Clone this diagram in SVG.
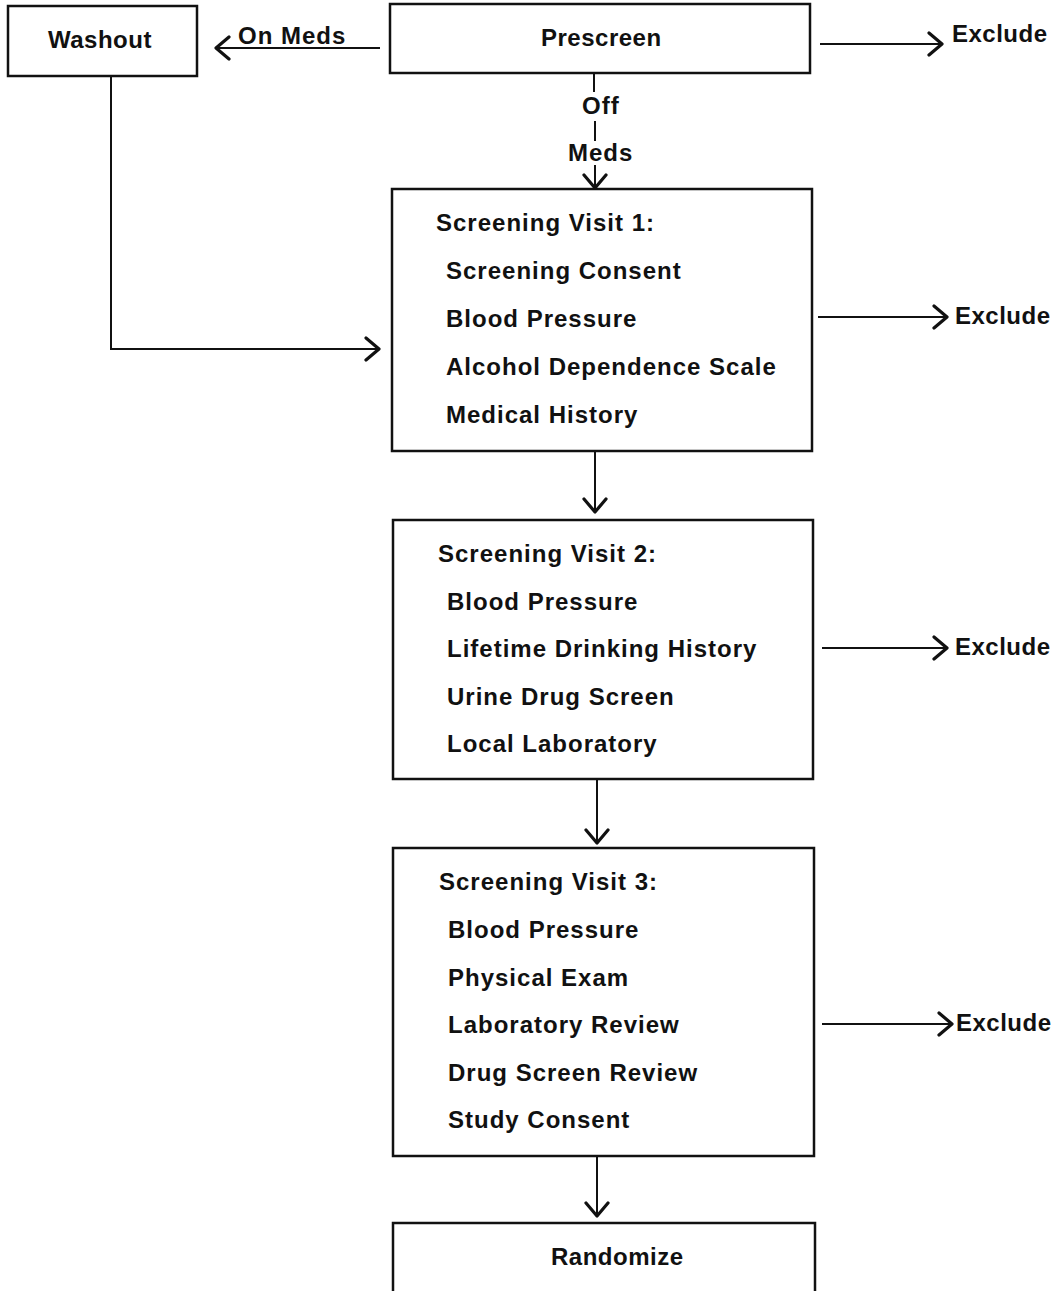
<svg xmlns="http://www.w3.org/2000/svg" width="1057" height="1291" viewBox="0 0 1057 1291">
<defs>
<style>
.box{fill:#fff;stroke:#111;stroke-width:2.5}
.ln{fill:none;stroke:#111;stroke-width:2}
.t{font-family:"Liberation Sans",Arial,sans-serif;font-size:24px;font-weight:bold;fill:#111;letter-spacing:1px}
.x{letter-spacing:0.5px}
</style>
<marker id="ah" viewBox="0 0 18 28" refX="16" refY="14" markerWidth="18" markerHeight="28" markerUnits="userSpaceOnUse" orient="auto">
<path d="M3,3 L16,14 L3,25" fill="none" stroke="#111" stroke-width="3.2" stroke-linecap="round" stroke-linejoin="round"/>
</marker>
</defs>
<rect width="1057" height="1291" fill="#fff"/>
<g id="connectors">
<line class="ln" x1="380" y1="48" x2="216" y2="48" marker-end="url(#ah)"/>
<line class="ln" x1="820" y1="44" x2="942" y2="44" marker-end="url(#ah)"/>
<line class="ln" x1="594" y1="73" x2="594" y2="92"/>
<line class="ln" x1="595" y1="121" x2="595" y2="141"/>
<line class="ln" x1="595" y1="165" x2="595" y2="188" marker-end="url(#ah)"/>
<polyline class="ln" points="111,76 111,349 379,349" marker-end="url(#ah)"/>
<line class="ln" x1="818" y1="317" x2="947" y2="317" marker-end="url(#ah)"/>
<line class="ln" x1="595" y1="452" x2="595" y2="512" marker-end="url(#ah)"/>
<line class="ln" x1="822" y1="648" x2="947" y2="648" marker-end="url(#ah)"/>
<line class="ln" x1="597" y1="779" x2="597" y2="843" marker-end="url(#ah)"/>
<line class="ln" x1="822" y1="1024" x2="952" y2="1024" marker-end="url(#ah)"/>
<line class="ln" x1="597" y1="1157" x2="597" y2="1216" marker-end="url(#ah)"/>
<text class="t" x="238" y="44">On Meds</text>
<text class="t" x="582" y="114">Off</text>
<text class="t" x="568" y="161">Meds</text>
<text class="t x" x="952" y="42">Exclude</text>
<text class="t x" x="955" y="324">Exclude</text>
<text class="t x" x="955" y="655">Exclude</text>
<text class="t x" x="956" y="1031">Exclude</text>
</g>
<g id="washout">
<rect class="box" x="8" y="6" width="189" height="70"/>
<text class="t x" x="48" y="48">Washout</text>
</g>
<g id="prescreen">
<rect class="box" x="390" y="4" width="420" height="69"/>
<text class="t x" x="541" y="46">Prescreen</text>
</g>
<g id="visit1">
<rect class="box" x="392" y="189" width="420" height="262"/>
<text class="t" x="436" y="231">Screening Visit 1:</text>
<text class="t" x="446" y="279">Screening Consent</text>
<text class="t" x="446" y="327">Blood Pressure</text>
<text class="t" x="446" y="375">Alcohol Dependence Scale</text>
<text class="t" x="446" y="423">Medical History</text>
</g>
<g id="visit2">
<rect class="box" x="393" y="520" width="420" height="259"/>
<text class="t" x="438" y="562">Screening Visit 2:</text>
<text class="t" x="447" y="610">Blood Pressure</text>
<text class="t" x="447" y="657">Lifetime Drinking History</text>
<text class="t" x="447" y="705">Urine Drug Screen</text>
<text class="t" x="447" y="752">Local Laboratory</text>
</g>
<g id="visit3">
<rect class="box" x="393" y="848" width="421" height="308"/>
<text class="t" x="439" y="890">Screening Visit 3:</text>
<text class="t" x="448" y="938">Blood Pressure</text>
<text class="t" x="448" y="986">Physical Exam</text>
<text class="t" x="448" y="1033">Laboratory Review</text>
<text class="t" x="448" y="1081">Drug Screen Review</text>
<text class="t" x="448" y="1128">Study Consent</text>
</g>
<g id="randomize">
<rect class="box" x="393" y="1223" width="422" height="90"/>
<text class="t x" x="551" y="1265">Randomize</text>
</g>
</svg>
